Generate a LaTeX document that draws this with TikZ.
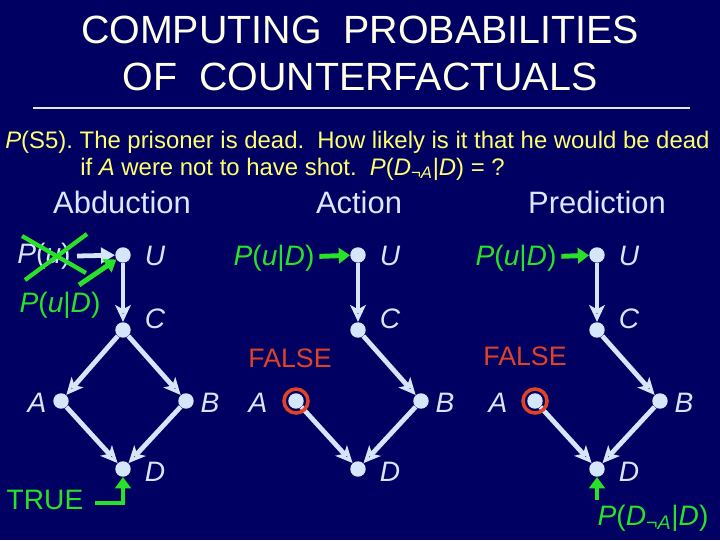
\documentclass[tikz,border=0pt]{standalone}
\usepackage{fontspec}
\setmainfont{Liberation Sans}
\usetikzlibrary{arrows.meta}
\definecolor{slidebg}{RGB}{0,0,98}
\definecolor{nodeblue}{RGB}{214,230,250}
\definecolor{grn}{RGB}{40,226,40}
\definecolor{redish}{RGB}{226,66,36}
\definecolor{yel}{RGB}{255,255,110}
\definecolor{cream}{RGB}{255,255,228}
\definecolor{headblue}{RGB}{220,230,255}
\frenchspacing

\begin{document}
\begin{tikzpicture}[x=0.025cm,y=-0.025cm,
                    >={Stealth[length=12pt,width=11pt,inset=3pt]}]
  \tikzstyle{var}=[circle,fill=nodeblue,inner sep=0pt,minimum size=11pt]
  \tikzstyle{lab}=[text=nodeblue,font=\fontsize{20}{22}\selectfont\itshape]
  \tikzstyle{link}=[draw=nodeblue,line width=3.4pt,->]
  \tikzstyle{gtext}=[text=grn,font=\fontsize{20}{22}\selectfont]
  \tikzstyle{garrow}=[draw=grn,line width=3.5pt,
                      -{Triangle[length=8pt,width=11pt]}]
  \tikzstyle{head}=[text=headblue,font=\fontsize{22}{24}\selectfont,anchor=base]

  \fill[slidebg] (0,0) rectangle (720,540);

  % title and question
  \node[text=cream,font=\fontsize{28}{30}\selectfont,anchor=base] (t1)
    at (360,43) {COMPUTING\ \ PROBABILITIES};
  \node[text=cream,font=\fontsize{28}{30}\selectfont,anchor=base] (t2)
    at (360,90) {OF\ \ COUNTERFACTUALS};
  \draw[cream!80!gray,line width=0.8pt] (33,108) -- (690,108);
  \node[text=yel,font=\fontsize{17}{19}\selectfont,anchor=base west,inner sep=0pt] (q1)
    at (5,148) {\textit{P}(S5). The prisoner is dead.\ \ How likely is it that he would be dead};
  \node[text=yel,font=\fontsize{17}{19}\selectfont,anchor=base west,inner sep=0pt] (q2)
    at (80,175) {if \textit{A} were not to have shot.\ \ \textit{P}(\textit{D}\textsubscript{¬\textit{A}}|\textit{D}) = ?};

  \node[head] (h1) at (122,213) {Abduction};
  \node[head] (h2) at (359,213) {Action};
  \node[head] (h3) at (597,213) {Prediction};

  % the three copies of the model
  \foreach \i/\x/\la in {1/123/86,2/358/100,3/597/99}{
    \node[var] (U\i) at (\x,255) {};
    \node[var] (C\i) at (\x,330) {};
    \node[var] (A\i) at (\x-62,401) {};
    \node[var] (B\i) at (\x+63,401) {};
    \node[var] (D\i) at (\x,469) {};
    \node[lab] (lU\i) at (\x+32,256) {U};
    \node[lab] (lC\i) at (\x+32,319) {C};
    \node[lab] (lA\i) at (\x-\la,403) {A};
    \node[lab] (lB\i) at (\x+87,403) {B};
    \node[lab] (lD\i) at (\x+32,472) {D};
    \path[link] (U\i) edge (C\i)
                (C\i) edge (B\i)
                (A\i) edge (D\i)
                (B\i) edge (D\i);
  }
  \path[link] (C1) edge (A1);

  % abduction
  \node[text=nodeblue,font=\fontsize{20}{22}\selectfont] (pu) at (44,256)
    {\textit{P}(\textit{u})};
  \draw[grn,line width=3pt] (22,236) -- (86,273)
                            (87,234) -- (25,280);
  \draw[draw=nodeblue,line width=3.4pt,-{Triangle[length=10pt,width=11pt]}] (77,256) -- (U1);
  \coordinate (g1) at (79,285);
  \draw[garrow] (g1) -- (U1);
  \node[gtext] (pud1) at (60,305) {\textit{P}(\textit{u}|\textit{D})};
  \node[gtext] (true) at (45,500) {TRUE};
  \coordinate (g2) at (95,503);
  \draw[garrow] (g2) -| (D1);

  % action
  \node[gtext] (pud2) at (274,258) {\textit{P}(\textit{u}|\textit{D})};
  \draw[garrow] (pud2) -- (U2);
  \node[text=redish,font=\fontsize{19}{21}\selectfont] (f2) at (290,358) {FALSE};
  \draw[redish,line width=2.5pt] (A2) circle (12);

  % prediction
  \node[gtext] (pud3) at (516,258) {\textit{P}(\textit{u}|\textit{D})};
  \draw[garrow] (pud3) -- (U3);
  \node[text=redish,font=\fontsize{19}{21}\selectfont] (f3) at (525,356) {FALSE};
  \draw[redish,line width=2.5pt] (A3) circle (12);
  \node[gtext] (pda) at (653,518) {\textit{P}(\textit{D}\textsubscript{¬\textit{A}}|\textit{D})};
  \draw[garrow] (pda.north -| D3) -- (D3);
\end{tikzpicture}
\end{document}
